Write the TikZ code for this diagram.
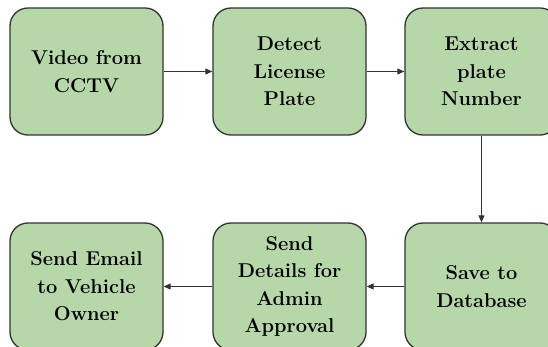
\documentclass[tikz,border=0pt]{standalone}
\usetikzlibrary{arrows.meta}
\definecolor{boxgreen}{HTML}{B6D7A8}
\definecolor{edge}{HTML}{333333}
\tikzset{
  stepbox/.style={draw=edge, line width=1.3pt, fill=boxgreen, rounded corners=18pt,
    minimum width=153pt, minimum height=127pt, inner sep=0pt, align=center,
    font=\fontsize{20}{27.5}\selectfont\bfseries, text=black},
  flow/.style={draw=edge, line width=0.9pt, -{Triangle[length=7pt,width=6pt]}}
}
\begin{document}
\begin{tikzpicture}[x=1pt,y=-1pt]
\useasboundingbox (0,0) rectangle (548,347);
\clip (0,0) rectangle (548,347);
\node[stepbox] (video) at (86.5,71.5) {Video from\\CCTV};
\node[stepbox] (detect) at (289.5,71.5) {Detect\\License\\Plate};
\node[stepbox] (extract) at (481.5,71.5) {Extract\\plate\\Number};
\node[stepbox] (save) at (481.5,286.5) {Save to\\Database};
\node[stepbox] (details) at (289.5,286.5) {Send\\Details for\\Admin\\Approval};
\node[stepbox] (email) at (86.5,286.5) {Send Email\\to Vehicle\\Owner};
\draw[flow] (video) -- (detect);
\draw[flow] (detect) -- (extract);
\draw[flow] (extract) -- (save);
\draw[flow] (save) -- (details);
\draw[flow] (details) -- (email);
\end{tikzpicture}
\end{document}
